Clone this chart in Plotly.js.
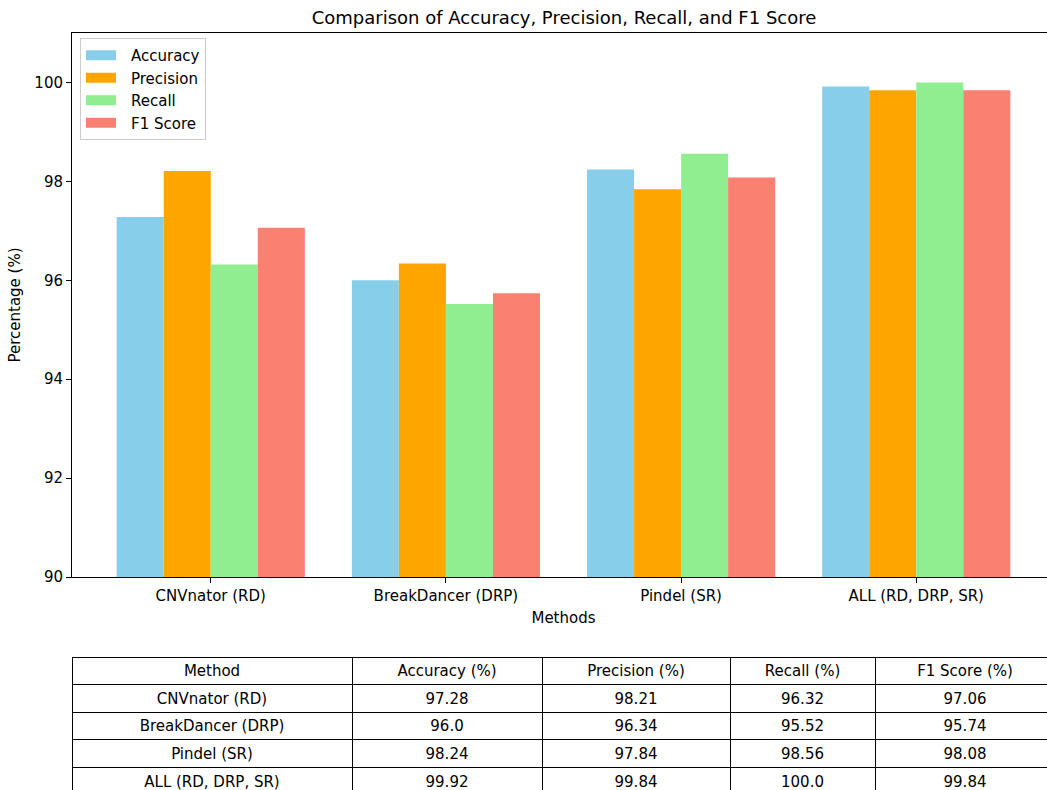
<!DOCTYPE html>
<html>
<head>
<meta charset="utf-8">
<script src="https://cdn.plot.ly/plotly-3.0.1.min.js"></script>
<style>
  html, body { margin: 0; padding: 0; overflow: hidden; background: #fff; }
  #chart { width: 1060px; height: 800px; }
</style>
</head>
<body>
<div id="chart"></div>
<script>
// Detection methods compared
const methods = ["CNVnator (RD)", "BreakDancer (DRP)", "Pindel (SR)", "ALL (RD, DRP, SR)"];

// Scores per method (%)
const accuracy  = [97.28, 96.0, 98.24, 99.92];
const precision = [98.21, 96.34, 97.84, 99.84];
const recall    = [96.32, 95.52, 98.56, 100.0];
const f1Score   = [97.06, 95.74, 98.08, 99.84];

const seriesNames = ["Accuracy", "Precision", "Recall", "F1 Score"];
const tableHeader = ["Method", "Accuracy (%)", "Precision (%)", "Recall (%)", "F1 Score (%)"];
const yTicks = [90, 92, 94, 96, 98, 100];

const colors = ["#87CEEB", "#FFA500", "#90EE90", "#FA8072"];
const FONT = "DejaVu Sans, sans-serif";

const W = 1060, H = 800;
const px = v => v / W;
const py = v => 1 - v / H;

// Python-style number text: keep at least one decimal
const fmt = v => { const s = v.toFixed(2); return s.endsWith("0") ? s.slice(0, -1) : s; };

const seriesValues = [accuracy, precision, recall, f1Score];
const bars = seriesValues.map((vals, i) => ({
  type: "bar",
  name: seriesNames[i],
  x: methods,
  y: vals,
  marker: { color: colors[i], line: { width: 0 } },
  xaxis: "x", yaxis: "y",
  showlegend: false,
  hoverinfo: "skip"
}));

// Legend keys: 30px-wide flat patches, one per series (no drawn points)
const legendKeys = seriesNames.map((name, i) => ({
  type: "scatter",
  mode: "lines",
  name: name,
  x: [methods[0]],
  y: [null],
  line: { color: colors[i], width: 10, dash: "30px,200px" },
  xaxis: "x", yaxis: "y",
  showlegend: true,
  hoverinfo: "skip"
}));

const ROW_H = 27.6;
const table = {
  type: "table",
  domain: { x: [px(72), px(1055)], y: [0, (H - 657) / H] },
  columnwidth: [280, 190, 188, 145, 180],
  header: {
    values: tableHeader,
    height: ROW_H,
    align: "center",
    fill: { color: "#ffffff" },
    line: { color: "#000000", width: 1 },
    font: { family: FONT, size: 15, color: "#000000" }
  },
  cells: {
    values: [methods, accuracy.map(fmt), precision.map(fmt), recall.map(fmt), f1Score.map(fmt)],
    height: ROW_H,
    align: "center",
    fill: { color: "#ffffff" },
    line: { color: "#000000", width: 1 },
    font: { family: FONT, size: 15, color: "#000000" }
  }
};

const layout = {
  width: W, height: H,
  margin: { l: 0, r: 0, t: 0, b: 0 },
  paper_bgcolor: "#ffffff",
  plot_bgcolor: "#ffffff",
  font: { family: FONT, size: 15, color: "#000000" },
  barmode: "group",
  bargap: 0.2,
  bargroupgap: 0,
  title: {
    text: "Comparison of Accuracy, Precision, Recall, and F1 Score",
    font: { family: FONT, size: 18, color: "#000000" },
    xref: "paper", yref: "paper",
    x: px(564), xanchor: "center",
    y: py(18), yanchor: "middle"
  },
  xaxis: {
    domain: [px(72), px(1055)],
    type: "category",
    range: [-0.59, 3.59],
    showline: true, linecolor: "#000000", linewidth: 1, mirror: true,
    ticks: "outside", ticklen: 5, tickcolor: "#000000",
    showgrid: false, zeroline: false,
    tickfont: { family: FONT, size: 15, color: "#000000" },
    title: { text: "Methods", font: { family: FONT, size: 15, color: "#000000" }, standoff: 8 },
    automargin: false,
    fixedrange: true
  },
  yaxis: {
    domain: [(H - 577) / H, (H - 33) / H],
    range: [90, 101],
    tickvals: yTicks,
    ticktext: yTicks.map(String),
    showline: true, linecolor: "#000000", linewidth: 1, mirror: true,
    ticks: "outside", ticklen: 5, tickcolor: "#000000",
    showgrid: false, zeroline: false,
    tickfont: { family: FONT, size: 15, color: "#000000" },
    title: { text: "Percentage (%)", font: { family: FONT, size: 15, color: "#000000" }, standoff: 10 },
    automargin: false,
    fixedrange: true
  },
  legend: {
    x: px(80), y: py(38), xanchor: "left", yanchor: "top",
    bgcolor: "rgba(255,255,255,0.8)",
    bordercolor: "#cccccc", borderwidth: 1,
    font: { family: FONT, size: 15, color: "#000000" },
    tracegroupgap: 0,
    itemwidth: 40
  },
  showlegend: true
};

Plotly.newPlot("chart", [...bars, ...legendKeys, table], layout, { displayModeBar: false, staticPlot: true });
</script>
</body>
</html>
